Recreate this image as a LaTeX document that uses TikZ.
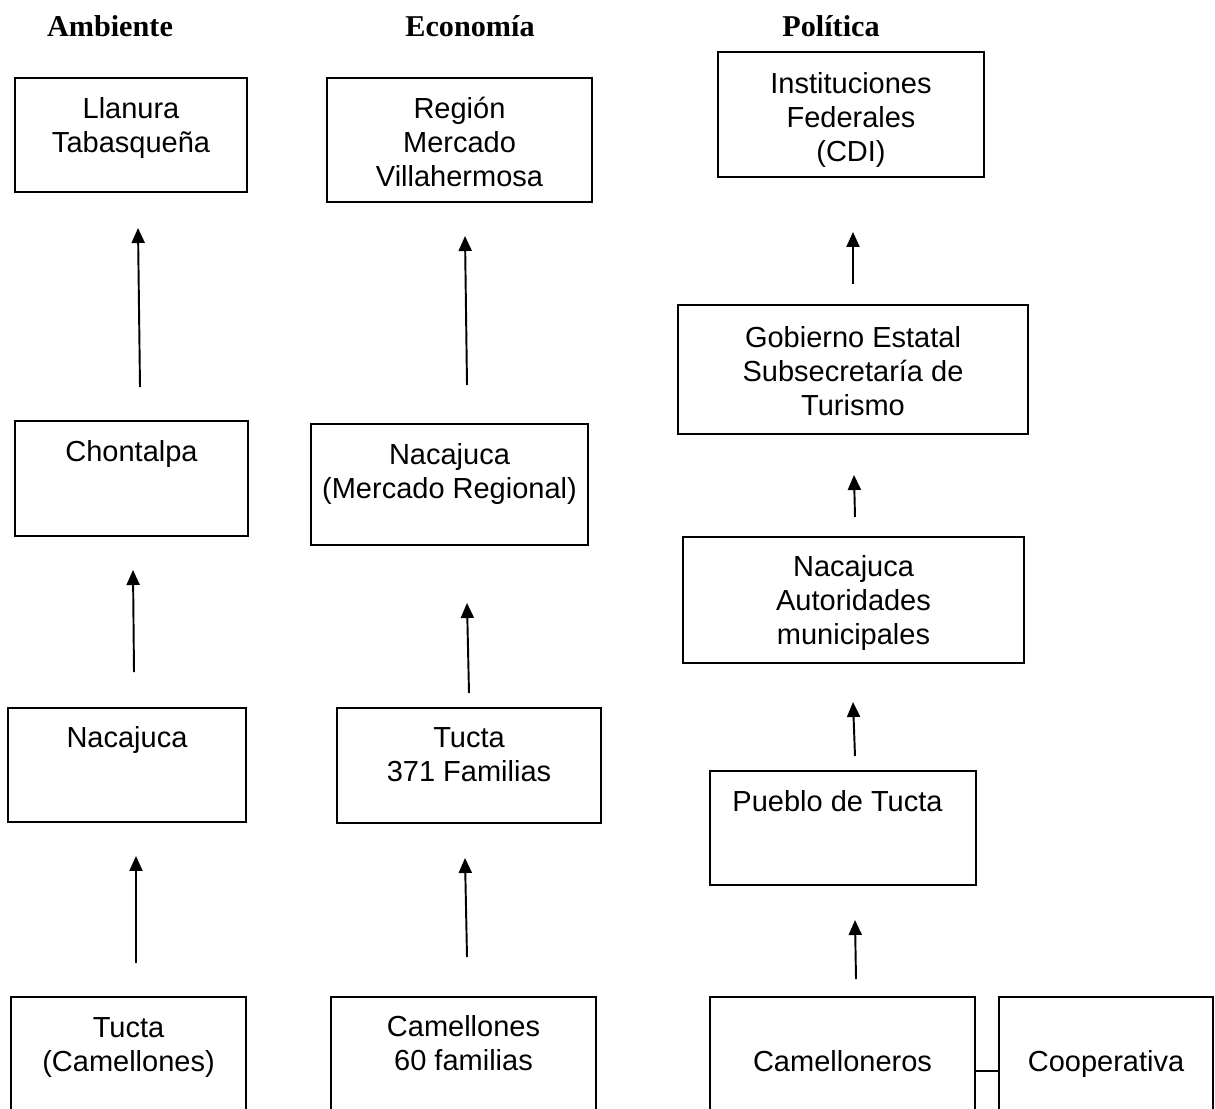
\documentclass[tikz,border=0pt]{standalone}
\usepackage{fontspec}
\setmainfont{Liberation Sans}
\newfontfamily\headserif{Liberation Serif}
\usetikzlibrary{fit,arrows.meta}
\begin{document}
\begin{tikzpicture}[x=0.4138pt,y=-0.4138pt,
  box/.style={draw, line width=1pt, inner sep=0pt},
  lbl/.style={anchor=north, inner sep=0pt, align=center, font=\fontsize{12}{14}\selectfont},
  head/.style={anchor=base, inner sep=0pt, font=\headserif\bfseries\fontsize{12.5}{15}\selectfont},
  up/.style={line width=0.8pt, -{Triangle[length=6.2pt,width=5.4pt]}},
  link/.style={line width=0.8pt}]
\clip (0,0) rectangle (1215,1108);

% column headings
\node[head] (hamb) at (110,37) {Ambiente};
\node[head] (heco) at (470,37) {Economía};
\node[head] (hpol) at (831,37) {Política};

% Ambiente
\node[box, fit={(15,78) (247,192)}]  (a1) {};
\node[box, fit={(15,421) (248,536)}] (a2) {};
\node[box, fit={(8,708) (246,822)}]  (a3) {};
\node[box, fit={(11,997) (246,1140)}] (a4) {};
\node[lbl] (a1t) at (131,97)   {Llanura\\Tabasqueña};
\node[lbl] (a2t) at (131.5,440) {Chontalpa};
\node[lbl] (a3t) at (127,726)  {Nacajuca};
\node[lbl] (a4t) at (128.5,1017) {Tucta\\(Camellones)};

% Economía
\node[box, fit={(327,78) (592,202)}]  (e1) {};
\node[box, fit={(311,424) (588,545)}] (e2) {};
\node[box, fit={(337,708) (601,823)}] (e3) {};
\node[box, fit={(331,997) (596,1140)}] (e4) {};
\node[lbl] (e1t) at (459.5,97)  {Región\\Mercado\\Villahermosa};
\node[lbl] (e2t) at (449.5,443) {Nacajuca\\(Mercado Regional)};
\node[lbl] (e3t) at (469,727)   {Tucta\\371 Familias};
\node[lbl] (e4t) at (463.5,1015) {Camellones\\60 familias};

% Política
\node[box, fit={(718,52) (984,177)}]   (p1) {};
\node[box, fit={(678,305) (1028,434)}] (p2) {};
\node[box, fit={(683,537) (1024,663)}] (p3) {};
\node[box, fit={(710,771) (976,885)}]  (p4) {};
\node[box, fit={(710,997) (975,1140)}] (p5) {};
\node[box, fit={(999,997) (1213,1140)}] (p6) {};
\node[lbl] (p1t) at (851,72)   {Instituciones\\Federales\\(CDI)};
\node[lbl] (p2t) at (853,326)  {Gobierno Estatal\\Subsecretaría de\\Turismo};
\node[lbl] (p3t) at (853.5,555) {Nacajuca\\Autoridades\\municipales};
\node[lbl] (p4t) at (837.5,790) {Pueblo de Tucta};
\node[lbl] (p5t) at (842.5,1050) {Camelloneros};
\node[lbl] (p6t) at (1106,1050) {Cooperativa};

% arrow ends
\coordinate (a21s) at (140,387); \coordinate (a21e) at (138,228);
\coordinate (a32s) at (134,672); \coordinate (a32e) at (133,570);
\coordinate (a43s) at (136,963); \coordinate (a43e) at (136,856);
\coordinate (e21s) at (467,385); \coordinate (e21e) at (465,236);
\coordinate (e32s) at (469,693); \coordinate (e32e) at (467,603);
\coordinate (e43s) at (467,957); \coordinate (e43e) at (465,858);
\coordinate (p21s) at (853,284); \coordinate (p21e) at (853,232);
\coordinate (p32s) at (855,517); \coordinate (p32e) at (854,475);
\coordinate (p43s) at (855,756); \coordinate (p43e) at (853,702);
\coordinate (p54s) at (856,979); \coordinate (p54e) at (855,920);

\draw[up] (a21s) -- (a21e);
\draw[up] (a32s) -- (a32e);
\draw[up] (a43s) -- (a43e);
\draw[up] (e21s) -- (e21e);
\draw[up] (e32s) -- (e32e);
\draw[up] (e43s) -- (e43e);
\draw[up] (p21s) -- (p21e);
\draw[up] (p32s) -- (p32e);
\draw[up] (p43s) -- (p43e);
\draw[up] (p54s) -- (p54e);

% link between the two bottom boxes
\coordinate (lk) at (0,1071);
\draw[link] (p5.east |- lk) -- (p6.west |- lk);
\end{tikzpicture}
\end{document}
